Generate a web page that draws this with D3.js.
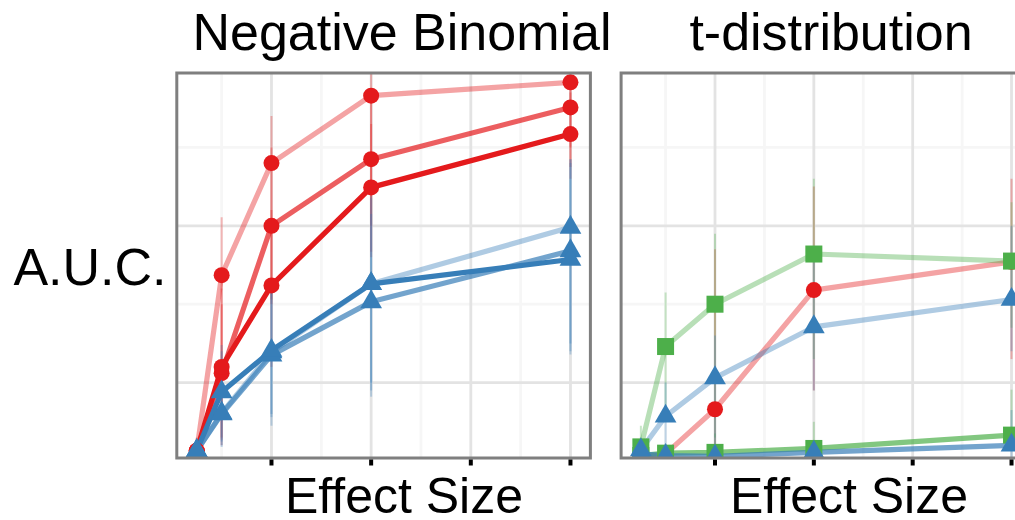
<!DOCTYPE html>
<html>
<head>
<meta charset="utf-8">
<script src="https://cdn.jsdelivr.net/npm/d3@7"></script>
<style>
  body { margin: 0; background: #fff; }
  svg { display: block; }
  text { font-family: "Liberation Sans", Arial, Helvetica, sans-serif; fill: #000; }
</style>
</head>
<body>
<svg id="chart" width="1015" height="520"></svg>
<script>
// ---- data -------------------------------------------------------------
const effectSizes = [0.25, 0.5, 1, 2, 4];
const xTicks = [1, 2, 3, 4];
const xMinorGrid = [0.5, 1.5, 2.5, 3.5];
const yMajorGrid = [0.6, 0.8];
const yMinorGrid = [0.7, 0.9];
const panelTitles = ["Negative Binomial", "t-distribution"];
const xTitle = "Effect Size";
const yTitle = "A.U.C.";

// Negative Binomial panel: mean AUC and interval per effect size
const nbRed1 = [0.513, 0.737, 0.880, 0.966, 0.983];
const nbRed1Lo = [0.505, 0.527, 0.706, 0.767, 0.875];
const nbRed1Hi = [0.530, 0.811, 0.940, 1.000, 0.995];
const nbRed2 = [0.513, 0.612, 0.800, 0.885, 0.951];
const nbRed2Lo = [0.505, 0.520, 0.700, 0.800, 0.900];
const nbRed2Hi = [0.525, 0.720, 0.900, 0.960, 0.990];
const nbRed3 = [0.513, 0.620, 0.724, 0.849, 0.917];
const nbRed3Lo = [0.505, 0.530, 0.620, 0.760, 0.860];
const nbRed3Hi = [0.525, 0.700, 0.820, 0.930, 0.970];
const nbBlue1 = [0.513, 0.561, 0.639, 0.726, 0.798];
const nbBlue1Lo = [0.505, 0.520, 0.556, 0.582, 0.640];
const nbBlue1Hi = [0.525, 0.640, 0.719, 0.838, 0.885];
const nbBlue2 = [0.513, 0.560, 0.635, 0.703, 0.768];
const nbBlue2Lo = [0.505, 0.518, 0.545, 0.590, 0.636];
const nbBlue2Hi = [0.525, 0.625, 0.715, 0.815, 0.880];
const nbBlue3 = [0.513, 0.588, 0.641, 0.726, 0.757];
const nbBlue3Lo = [0.505, 0.525, 0.560, 0.600, 0.650];
const nbBlue3Hi = [0.525, 0.648, 0.730, 0.835, 0.885];

// t-distribution panel
const tdRed1 = [0.505, 0.509, 0.566, 0.718, 0.754];
const tdRed1Lo = [0.500, 0.500, 0.510, 0.590, 0.630];
const tdRed1Hi = [0.510, 0.520, 0.770, 0.850, 0.860];
const tdGreen1 = [0.518, 0.646, 0.700, 0.764, 0.755];
const tdGreen1Lo = [0.505, 0.560, 0.530, 0.630, 0.670];
const tdGreen1Hi = [0.545, 0.715, 0.790, 0.860, 0.830];
const tdGreen2 = [0.507, 0.510, 0.511, 0.516, 0.533];
const tdGreen2Lo = [0.500, 0.500, 0.500, 0.500, 0.543];
const tdGreen2Hi = [0.520, 0.520, 0.535, 0.550, 0.591];
const tdBlue1 = [0.514, 0.557, 0.606, 0.671, 0.706];
const tdBlue1Lo = [0.500, 0.520, 0.510, 0.590, 0.640];
const tdBlue1Hi = [0.530, 0.600, 0.660, 0.770, 0.800];
const tdBlue2 = [0.509, 0.507, 0.506, 0.511, 0.520];
const tdBlue2Lo = [0.500, 0.500, 0.500, 0.500, 0.500];
const tdBlue2Hi = [0.515, 0.515, 0.515, 0.525, 0.565];

// ---- styling ----------------------------------------------------------
const hues = {
  red:   { color: "#E41A1C", shape: "circle" },
  blue:  { color: "#377EB8", shape: "triangle" },
  green: { color: "#4DAF4A", shape: "square" }
};

// drawing order inside each panel follows this list
const seriesList = [
  { panel: 0, hue: "red",  alpha: 0.4, v: nbRed1,  lo: nbRed1Lo,  hi: nbRed1Hi },
  { panel: 0, hue: "red",  alpha: 0.7, v: nbRed2,  lo: nbRed2Lo,  hi: nbRed2Hi },
  { panel: 0, hue: "red",  alpha: 1.0, v: nbRed3,  lo: nbRed3Lo,  hi: nbRed3Hi },
  { panel: 0, hue: "blue", alpha: 0.4, v: nbBlue1, lo: nbBlue1Lo, hi: nbBlue1Hi },
  { panel: 0, hue: "blue", alpha: 0.7, v: nbBlue2, lo: nbBlue2Lo, hi: nbBlue2Hi },
  { panel: 0, hue: "blue", alpha: 1.0, v: nbBlue3, lo: nbBlue3Lo, hi: nbBlue3Hi },
  { panel: 1, hue: "red",  alpha: 0.4, v: tdRed1,  lo: tdRed1Lo,  hi: tdRed1Hi },
  { panel: 1, hue: "green",alpha: 0.4, v: tdGreen1,lo: tdGreen1Lo,hi: tdGreen1Hi },
  { panel: 1, hue: "green",alpha: 0.7, v: tdGreen2,lo: tdGreen2Lo,hi: tdGreen2Hi },
  { panel: 1, hue: "blue", alpha: 0.4, v: tdBlue1, lo: tdBlue1Lo, hi: tdBlue1Hi },
  { panel: 1, hue: "blue", alpha: 0.7, v: tdBlue2, lo: tdBlue2Lo, hi: tdBlue2Hi }
];

// ---- layout -----------------------------------------------------------
const panelTop = 73, panelBottom = 458;
const panels = [
  { x0: 176.8, x1: 590.4, titleX: 402, xTitleX: 404 },
  { x0: 621.1, x1: 1031.3, titleX: 831, xTitleX: 849 }
];
const xDomain = [0.05, 4.2];

const y = d3.scaleLinear().domain([0.5, 1.0]).range([461, 69]);

const svg = d3.select("#chart");
const defs = svg.append("defs");

panels.forEach((p, i) => {
  const x = d3.scaleLinear().domain(xDomain).range([p.x0, p.x1]);
  const g = svg.append("g");

  defs.append("clipPath").attr("id", "clip" + i)
    .append("rect")
    .attr("x", p.x0).attr("y", panelTop)
    .attr("width", p.x1 - p.x0).attr("height", panelBottom - panelTop);

  const body = g.append("g").attr("clip-path", `url(#clip${i})`);

  // grid: minor then major
  body.selectAll(".vminor").data(xMinorGrid).join("line")
    .attr("x1", d => x(d)).attr("x2", d => x(d))
    .attr("y1", panelTop).attr("y2", panelBottom)
    .attr("stroke", "#F6F6F6").attr("stroke-width", 2.8);
  body.selectAll(".hminor").data(yMinorGrid).join("line")
    .attr("x1", p.x0).attr("x2", p.x1)
    .attr("y1", d => y(d)).attr("y2", d => y(d))
    .attr("stroke", "#F6F6F6").attr("stroke-width", 2.8);
  body.selectAll(".vmajor").data(xTicks).join("line")
    .attr("x1", d => x(d)).attr("x2", d => x(d))
    .attr("y1", panelTop).attr("y2", panelBottom)
    .attr("stroke", "#E3E3E3").attr("stroke-width", 2.8);
  body.selectAll(".hmajor").data(yMajorGrid).join("line")
    .attr("x1", p.x0).attr("x2", p.x1)
    .attr("y1", d => y(d)).attr("y2", d => y(d))
    .attr("stroke", "#E3E3E3").attr("stroke-width", 2.8);

  const own = seriesList.filter(s => s.panel === i);

  // interval bars
  own.forEach(s => {
    body.append("g").selectAll("line")
      .data(effectSizes.map((e, k) => ({ e, lo: s.lo[k], hi: s.hi[k] })))
      .join("line")
      .attr("x1", d => x(d.e)).attr("x2", d => x(d.e))
      .attr("y1", d => y(d.lo)).attr("y2", d => y(d.hi))
      .attr("stroke", hues[s.hue].color)
      .attr("stroke-width", 2)
      .attr("stroke-opacity", 0.3);
  });

  // lines
  const line = d3.line().x(d => x(d.e)).y(d => y(d.v));
  own.forEach(s => {
    body.append("path")
      .datum(effectSizes.map((e, k) => ({ e, v: s.v[k] })))
      .attr("d", line)
      .attr("fill", "none")
      .attr("stroke", hues[s.hue].color)
      .attr("stroke-opacity", s.alpha)
      .attr("stroke-width", 5.2)
      .attr("stroke-linejoin", "round");
  });

  // points
  own.forEach(s => {
    const h = hues[s.hue];
    const pts = effectSizes.map((e, k) => ({ e, v: s.v[k] }));
    if (h.shape === "circle") {
      body.append("g").selectAll("circle").data(pts).join("circle")
        .attr("cx", d => x(d.e)).attr("cy", d => y(d.v))
        .attr("r", 8).attr("fill", h.color);
    } else if (h.shape === "square") {
      body.append("g").selectAll("rect").data(pts).join("rect")
        .attr("x", d => x(d.e) - 8.5).attr("y", d => y(d.v) - 8.5)
        .attr("width", 17).attr("height", 17).attr("fill", h.color);
    } else {
      const tri = d3.symbol().type(d3.symbolTriangle).size(205);
      body.append("g").selectAll("path").data(pts).join("path")
        .attr("transform", d => `translate(${x(d.e)},${y(d.v)})`)
        .attr("d", tri).attr("fill", h.color);
    }
  });

  // panel border
  g.append("rect")
    .attr("x", p.x0).attr("y", panelTop)
    .attr("width", p.x1 - p.x0).attr("height", panelBottom - panelTop)
    .attr("fill", "none").attr("stroke", "#7F7F7F").attr("stroke-width", 3);

  // x axis ticks (no labels)
  g.selectAll(".tick").data(xTicks).join("line")
    .attr("x1", d => x(d)).attr("x2", d => x(d))
    .attr("y1", panelBottom + 1.5).attr("y2", 465.5)
    .attr("stroke", "#000").attr("stroke-width", 4);

  // strip title
  g.append("text")
    .attr("x", p.titleX).attr("y", 50)
    .attr("text-anchor", "middle")
    .attr("font-size", 52)
    .text(panelTitles[i]);

  // x axis title
  g.append("text")
    .attr("x", p.xTitleX).attr("y", 513)
    .attr("text-anchor", "middle")
    .attr("font-size", 50)
    .text(xTitle);
});

// y axis title
svg.append("text")
  .attr("x", 90).attr("y", 285)
  .attr("text-anchor", "middle")
  .attr("font-size", 52)
  .text(yTitle);
</script>
</body>
</html>
